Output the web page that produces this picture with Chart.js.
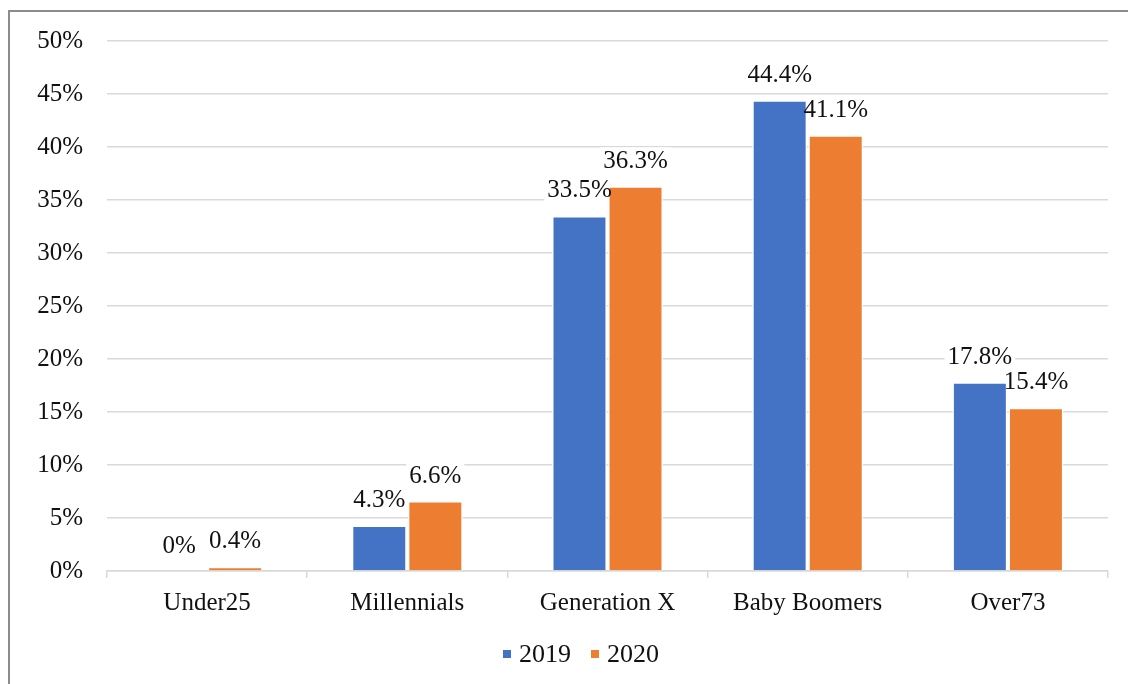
<!DOCTYPE html>
<html>
<head>
<meta charset="utf-8">
<script src="https://cdn.jsdelivr.net/npm/chart.js@4.4.1/dist/chart.umd.min.js"></script>
<style>
  html, body { margin: 0; padding: 0; background: #fff; }
  #wrap { position: relative; width: 1128px; height: 684px; overflow: hidden; }
  #frame {
    position: absolute; left: 8px; top: 10px; width: 1200px; height: 800px;
    border-left: 2px solid #8c8c8c; border-top: 2px solid #8c8c8c;
    pointer-events: none;
  }
</style>
</head>
<body>
<div id="wrap">
  <canvas id="chart" width="1128" height="684"></canvas>
  <div id="frame"></div>
</div>
<script>
const categories = ["Under25", "Millennials", "Generation X", "Baby Boomers", "Over73"];
const series2019 = [0, 4.3, 33.5, 44.4, 17.8];
const series2020 = [0.4, 6.6, 36.3, 41.1, 15.4];
const yTicks = [0, 5, 10, 15, 20, 25, 30, 35, 40, 45, 50];

const FONT = "'Liberation Serif', serif";
const FONT_SIZE = 25;
const LABEL_RAISE = 25;

function eachLabel(chart, fn) {
  chart.data.datasets.forEach((ds, i) => {
    chart.getDatasetMeta(i).data.forEach((bar, j) => {
      fn(ds.data[j] + "%", bar.x, bar.y - LABEL_RAISE);
    });
  });
}

// value labels above each bar; the white box goes under the bars,
// so it only cuts the gridlines
const barLabels = {
  id: "barLabels",
  beforeDatasetsDraw(chart) {
    const { ctx } = chart;
    ctx.save();
    ctx.font = `${FONT_SIZE}px ${FONT}`;
    ctx.fillStyle = "#fff";
    eachLabel(chart, (text, x, y) => {
      const w = ctx.measureText(text).width;
      ctx.fillRect(x - w / 2 - 3, y - 14, w + 6, 28);
    });
    ctx.restore();
  },
  afterDatasetsDraw(chart) {
    const { ctx } = chart;
    ctx.save();
    ctx.font = `${FONT_SIZE}px ${FONT}`;
    ctx.textAlign = "center";
    ctx.textBaseline = "middle";
    ctx.fillStyle = "#111";
    eachLabel(chart, (text, x, y) => ctx.fillText(text, x, y));
    ctx.restore();
  },
};

// legend row under the axis: small square then the series name
const legendRow = {
  id: "legendRow",
  afterDraw(chart) {
    const { ctx } = chart;
    const y = 654;
    const x0 = 503;
    const step = 88;
    ctx.save();
    ctx.font = `26px ${FONT}`;
    ctx.textBaseline = "middle";
    chart.data.datasets.forEach((ds, i) => {
      const x = x0 + i * step;
      ctx.fillStyle = ds.backgroundColor;
      ctx.fillRect(x, y - 4, 8, 8);
      ctx.fillStyle = "#111";
      ctx.fillText(ds.label, x + 16, y + 1);
    });
    ctx.restore();
  },
};

new Chart(document.getElementById("chart"), {
  type: "bar",
  data: {
    labels: categories,
    datasets: [
      {
        label: "2019",
        data: series2019,
        backgroundColor: "#4472c4",
        borderColor: "#fff",
        borderWidth: 1.5,
      },
      {
        label: "2020",
        data: series2020,
        backgroundColor: "#ed7d31",
        borderColor: "#fff",
        borderWidth: 1.5,
      },
    ],
  },
  options: {
    responsive: false,
    animation: false,
    layout: { padding: { left: 0, right: 20, top: 41, bottom: 66 } },
    categoryPercentage: 0.56,
    barPercentage: 0.98,
    plugins: {
      legend: { display: false },
      tooltip: { enabled: false },
    },
    scales: {
      x: {
        grid: {
          offset: true,
          drawOnChartArea: false,
          tickLength: 7,
          color: "#d9d9d9",
          lineWidth: 1.5,
        },
        border: { color: "#d9d9d9", width: 1.5 },
        ticks: {
          font: { family: FONT, size: FONT_SIZE },
          color: "#111",
          padding: 10,
        },
        afterFit: (scale) => { scale.height = 47; },
      },
      y: {
        min: 0,
        max: 50,
        afterBuildTicks: (scale) => {
          scale.ticks = yTicks.map((v) => ({ value: v }));
        },
        grid: { color: "#d9d9d9", lineWidth: 1.5, drawTicks: false },
        border: { display: false },
        ticks: {
          font: { family: FONT, size: FONT_SIZE },
          color: "#111",
          padding: 24,
          callback: (v) => v + "%",
        },
        afterFit: (scale) => { scale.width = 107; },
      },
    },
  },
  plugins: [barLabels, legendRow],
});
</script>
</body>
</html>
